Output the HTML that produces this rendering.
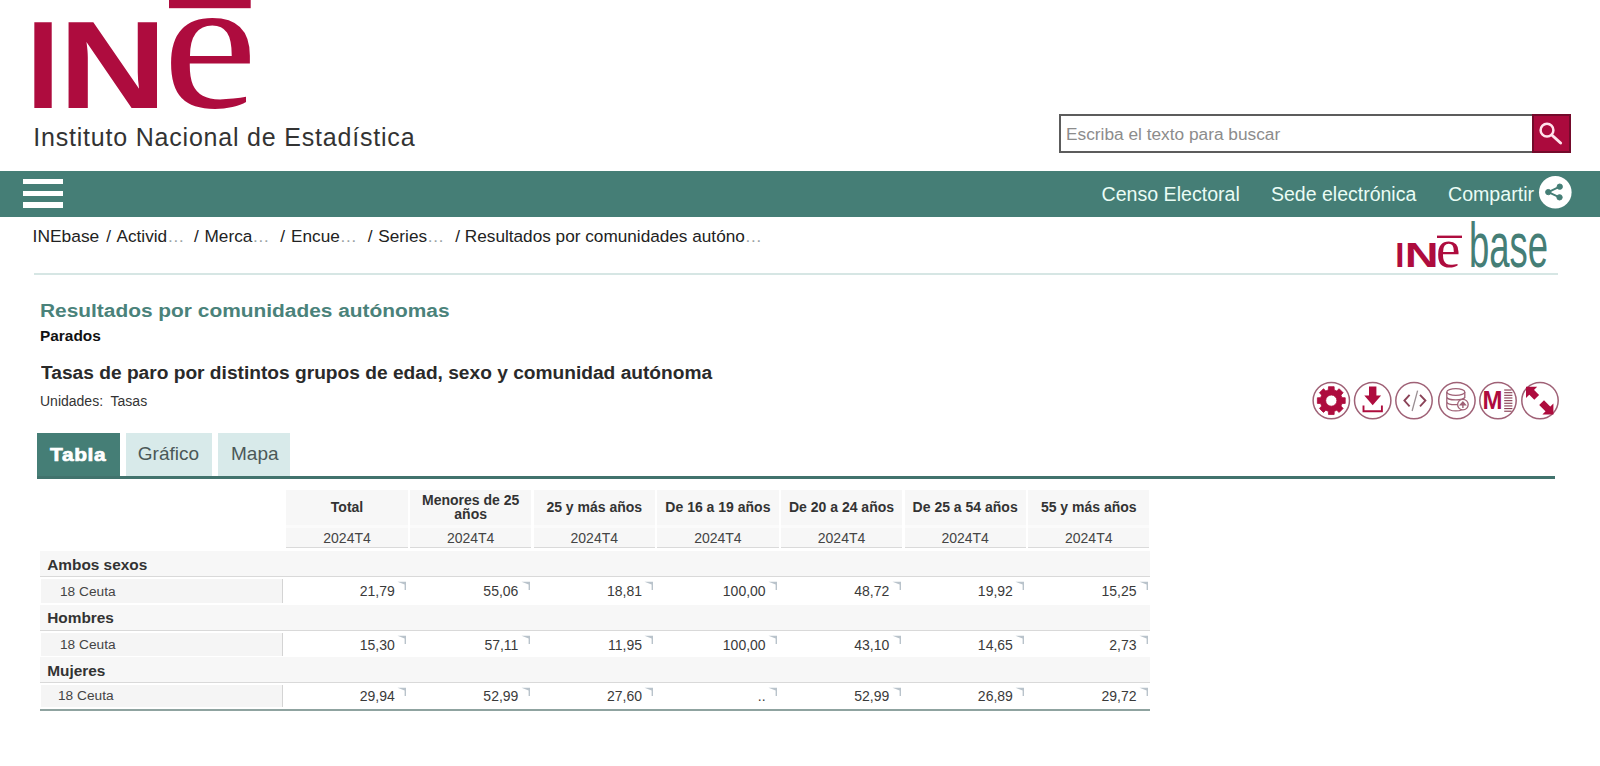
<!DOCTYPE html>
<html lang="es">
<head>
<meta charset="utf-8">
<title>Resultados por comunidades autónomas</title>
<style>
*{box-sizing:border-box;margin:0;padding:0}
html,body{width:1600px;height:766px;overflow:hidden;background:#fff}
body{font-family:"Liberation Sans",sans-serif;color:#222;position:relative}
.a{position:absolute;white-space:pre}
.e{color:#9aa3a3}
svg{position:absolute;overflow:visible}
</style>
</head>
<body>
<svg style="left:0;top:0" width="300" height="115" viewBox="0 0 300 115">
<rect x="169" y="0" width="81.7" height="8.2" fill="#ae0c3e"/>
<g fill="#ae0c3e" font-family="Liberation Sans, sans-serif" font-weight="bold">
<text transform="translate(26.3 107.6) scale(0.97 1)" font-size="124.5" x="0" y="0">I</text>
<text transform="translate(58.55 107.6) scale(1.208 1)" font-size="124.5" x="0" y="0">N</text>
</g>
<text transform="translate(162.66 107.4) scale(1.124 1)" font-family="Liberation Serif, serif" font-size="189.4" fill="#ae0c3e">e</text>
</svg>
<div class="a" style="left:33.2px;top:121.64px;font-size:25px;line-height:31px;color:#333;letter-spacing:0.8px;">Instituto Nacional de Estadística</div>
<div class="a" style="left:1058.5px;top:113.7px;width:512.3px;height:39px;background:#fff;border:2px solid #5c5c5c;"></div>
<div class="a" style="left:1066px;top:122.71px;font-size:17.3px;line-height:22px;color:#8c8c8c;">Escriba el texto para buscar</div>
<div class="a" style="left:1532.2px;top:113.7px;width:38.6px;height:39px;background:#ab0a3d;border:2px solid #740a2b;"></div>
<svg style="left:1532px;top:114px" width="39" height="39" viewBox="0 0 39 39"><circle cx="15" cy="16.2" r="6.4" fill="none" stroke="#ffe3ec" stroke-width="2.5"/><path d="M19.8 21 L28.6 29" stroke="#ffe3ec" stroke-width="3" stroke-linecap="round"/></svg>
<div class="a" style="left:0px;top:171px;width:1600px;height:45.5px;background:#457e76;"></div>
<div class="a" style="left:23px;top:179px;width:40px;height:5.4px;background:#fff;"></div>
<div class="a" style="left:23px;top:190.5px;width:40px;height:5.4px;background:#fff;"></div>
<div class="a" style="left:23px;top:202.3px;width:40px;height:5.4px;background:#fff;"></div>
<div class="a" style="left:1101.5px;top:181.51px;font-size:19.6px;line-height:24px;color:#eafcf5;">Censo Electoral</div>
<div class="a" style="left:1271px;top:181.54px;font-size:19.5px;line-height:24px;color:#eafcf5;">Sede electrónica</div>
<div class="a" style="left:1448px;top:181.51px;font-size:19.6px;line-height:24px;color:#eafcf5;">Compartir</div>
<svg style="left:1539.3px;top:176.3px" width="32.6" height="32.6" viewBox="0 0 33 33"><circle cx="16.5" cy="16.5" r="16.5" fill="#fff"/><g fill="#457e76" stroke="#457e76"><circle cx="9.4" cy="16.3" r="2.7"/><circle cx="21" cy="10.8" r="2.7"/><circle cx="20.8" cy="21.6" r="2.7"/><path d="M9.4 16.3 L21 10.8 M9.4 16.3 L20.8 21.6" stroke-width="1.9" fill="none"/></g></svg>
<div class="a" style="left:32.6px;top:225.27px;font-size:17.4px;line-height:22px;color:#222;">INEbase</div>
<div class="a" style="left:106.3px;top:225.34px;font-size:17.2px;line-height:22px;color:#222;word-spacing:1.6px;">/ Activid<span class="e">…</span></div>
<div class="a" style="left:194px;top:225.34px;font-size:17.2px;line-height:22px;color:#222;word-spacing:1px;">/ Merca<span class="e">…</span></div>
<div class="a" style="left:280.3px;top:225.34px;font-size:17.2px;line-height:22px;color:#222;word-spacing:1.2px;">/ Encue<span class="e">…</span></div>
<div class="a" style="left:367.8px;top:225.34px;font-size:17.2px;line-height:22px;color:#222;word-spacing:1px;">/ Series<span class="e">…</span></div>
<div class="a" style="left:455.3px;top:225.34px;font-size:17.2px;line-height:22px;color:#222;">/ Resultados por comunidades autóno<span class="e">…</span></div>
<div class="a" style="left:34px;top:273px;width:1524px;height:2px;background:#d6e6e4;"></div>
<svg style="left:1390px;top:215px" width="170" height="60" viewBox="1390 215 170 60">
<rect x="1437" y="235.6" width="25" height="2.4" fill="#ae0c3e"/>
<g fill="#ae0c3e" font-family="Liberation Sans, sans-serif" font-weight="bold">
<text transform="translate(1395.15 266.7) scale(0.94 1)" font-size="35">I</text>
<text transform="translate(1404.7 266.7) scale(1.34 1)" font-size="35">N</text>
</g>
<text x="1436" y="266.7" font-family="Liberation Serif, serif" font-size="55" fill="#ae0c3e">e</text>
<text transform="translate(1468.9 266.7) scale(0.5865 1)" font-family="Liberation Sans, sans-serif" font-size="62.2" fill="#457e76">base</text>
</svg>
<div class="a" style="left:39.6px;top:300.36px;font-size:18px;line-height:22px;color:#4a827a;font-weight:bold;transform:scaleX(1.16);transform-origin:0 0;">Resultados por comunidades autónomas</div>
<div class="a" style="left:39.6px;top:327.15px;font-size:14px;line-height:18px;color:#111;font-weight:bold;transform:scaleX(1.1);transform-origin:0 0;">Parados</div>
<div class="a" style="left:41px;top:362.36px;font-size:18px;line-height:22px;color:#2a2a2a;font-weight:bold;transform:scaleX(1.064);transform-origin:0 0;">Tasas de paro por distintos grupos de edad, sexo y comunidad autónoma</div>
<div class="a" style="left:40px;top:391.75px;font-size:14px;line-height:18px;color:#333;">Unidades:  Tasas</div>
<svg style="left:1300px;top:375px" width="270" height="52" viewBox="1300 375 270 52">
<g transform="translate(1331.3 400.6)"><circle r="18.2" fill="#fff" stroke="#9f6176" stroke-width="1.5"/><path d="M10.70 -2.96 L13.92 -2.82 L13.92 2.82 L10.70 2.96 L9.66 5.47 L11.84 7.85 L7.85 11.84 L5.47 9.66 L2.96 10.70 L2.82 13.92 L-2.82 13.92 L-2.96 10.70 L-5.47 9.66 L-7.85 11.84 L-11.84 7.85 L-9.66 5.47 L-10.70 2.96 L-13.92 2.82 L-13.92 -2.82 L-10.70 -2.96 L-9.66 -5.47 L-11.84 -7.85 L-7.85 -11.84 L-5.47 -9.66 L-2.96 -10.70 L-2.82 -13.92 L2.82 -13.92 L2.96 -10.70 L5.47 -9.66 L7.85 -11.84 L11.84 -7.85 L9.66 -5.47Z M5.6 0 A5.6 5.6 0 1 0 -5.6 0 A5.6 5.6 0 1 0 5.6 0Z" fill="#ae0c3e" fill-rule="evenodd" stroke="#ae0c3e" stroke-width="0.8" stroke-linejoin="round"/></g>
<g transform="translate(1372.7 400.6)"><circle r="18.2" fill="#fff" stroke="#9f6176" stroke-width="1.5"/><path d="M-3.7 -14 H3.7 V-5 H8.4 L0 4.6 L-8.4 -5 H-3.7Z" fill="#ae0c3e"/><path d="M-9.2 4.8 V10.6 H9.2 V4.8" fill="none" stroke="#ae0c3e" stroke-width="1.9"/></g>
<g transform="translate(1414 400.6)"><circle r="18.2" fill="#fff" stroke="#9f6176" stroke-width="1.5"/><path d="M-4.4 -5.8 L-9.6 0 L-4.4 5.8 M6 -5.8 L11.4 0 L6 5.8" fill="none" stroke="#8a4358" stroke-width="1.9"/><path d="M3.6 -10 L-1.9 10.4" fill="none" stroke="#9a8f93" stroke-width="1.3"/></g>
<g transform="translate(1456.9 400.6)"><circle r="18.2" fill="#fff" stroke="#9f6176" stroke-width="1.5"/><g transform="translate(2.4 -0.6)"><ellipse cx="-3.5" cy="-8" rx="9" ry="3.4" fill="none" stroke="#9f6176" stroke-width="1.3"/><path d="M-12.5 -8 V6 C-12.5 12.6 5.5 12.6 5.5 6 M-12.5 -3.3 C-12.5 1 5.5 1 5.5 -3.3 M-12.5 1.4 C-12.5 5.8 5.5 5.8 5.5 1.4 M5.5 -8 V-2" fill="none" stroke="#9f6176" stroke-width="1.3"/></g><circle cx="6" cy="4" r="5.3" fill="#fff" stroke="#9f6176" stroke-width="1.3"/><path d="M6 7.4 V2.6 M3.6 4.2 L6 1.4 L8.4 4.2Z" fill="#9f6176" stroke="#9f6176" stroke-width="1.4"/></g>
<g transform="translate(1498 400.6)"><circle r="18.2" fill="#fff" stroke="#9f6176" stroke-width="1.5"/><text x="0" y="0" font-family="Liberation Sans, sans-serif" font-weight="bold" font-size="26.4" fill="#ae0c3e" transform="translate(-15.4 8.8) scale(0.91 1)">M</text><rect x="6.2" y="-11.15" width="7.35" height="1.15" fill="#8a4358"/><rect x="6.2" y="-8.50" width="8.20" height="1.15" fill="#8a4358"/><rect x="6.2" y="-5.85" width="8.20" height="1.15" fill="#8a4358"/><rect x="6.2" y="-3.20" width="8.20" height="1.15" fill="#8a4358"/><rect x="6.2" y="-0.55" width="8.20" height="1.15" fill="#8a4358"/><rect x="6.2" y="2.10" width="8.20" height="1.15" fill="#8a4358"/><rect x="6.2" y="4.75" width="8.20" height="1.15" fill="#8a4358"/><rect x="6.2" y="7.40" width="8.20" height="1.15" fill="#8a4358"/><rect x="6.2" y="10.05" width="7.35" height="1.15" fill="#8a4358"/></g>
<g transform="translate(1540 400.6)"><circle r="18.2" fill="#fff" stroke="#9f6176" stroke-width="1.5"/><path d="M-14 -13.8 L-2.8 -13.8 L-14 -2.6Z M13.4 13.8 L2.4 13.8 L13.4 2.8Z" fill="#ae0c3e"/><path d="M-9.5 -9.5 L-3.3 -3.3 M8.8 9.2 L1.6 2" stroke="#ae0c3e" stroke-width="6.8"/></g>
</svg>
<div class="a" style="left:36.5px;top:433px;width:83.2px;height:46.3px;background:#457e76;"></div>
<div class="a" style="left:126px;top:433px;width:85.6px;height:43px;background:#d8eaea;"></div>
<div class="a" style="left:218px;top:433px;width:72.2px;height:43px;background:#d8eaea;"></div>
<div class="a" style="left:36.5px;top:476.2px;width:1518.5px;height:3.2px;background:#41736d;"></div>
<div class="a" style="left:50.2px;top:443.02px;font-size:19px;line-height:24px;color:#fff;font-weight:bold;letter-spacing:0.6px;-webkit-text-stroke:0.7px #fff;transform:scaleX(1.1);transform-origin:0 0;">Tabla</div>
<div class="a" style="left:137.8px;top:442.22px;font-size:19px;line-height:24px;color:#4b5858;">Gráfico</div>
<div class="a" style="left:231px;top:442.22px;font-size:19px;line-height:24px;color:#4b5858;">Mapa</div>
<div class="a" style="left:286.4px;top:490px;width:121.3px;height:58.2px;background:#fbfbfb;border-bottom:1.3px solid #dadada;"></div>
<div class="a" style="left:286.4px;top:490px;width:121.3px;height:35.4px;background:#f7f7f7;"></div>
<div class="a" style="left:286.4px;top:527.8px;width:121.3px;height:19.2px;background:#f7f7f7;"></div>
<div class="a" style="left:286.4px;top:498.45px;font-size:14px;line-height:18px;color:#333;font-weight:bold;width:121.3px;text-align:center;">Total</div>
<div class="a" style="left:286.4px;top:528.95px;font-size:14px;line-height:18px;color:#444;width:121.3px;text-align:center;">2024T4</div>
<div class="a" style="left:410.02px;top:490px;width:121.3px;height:58.2px;background:#fbfbfb;border-bottom:1.3px solid #dadada;"></div>
<div class="a" style="left:410.02px;top:490px;width:121.3px;height:35.4px;background:#f7f7f7;"></div>
<div class="a" style="left:410.02px;top:527.8px;width:121.3px;height:19.2px;background:#f7f7f7;"></div>
<div class="a" style="left:410.02px;top:491.15px;font-size:14px;line-height:18px;color:#333;font-weight:bold;width:121.3px;text-align:center;">Menores de 25</div>
<div class="a" style="left:410.02px;top:504.95px;font-size:14px;line-height:18px;color:#333;font-weight:bold;width:121.3px;text-align:center;">años</div>
<div class="a" style="left:410.02px;top:528.95px;font-size:14px;line-height:18px;color:#444;width:121.3px;text-align:center;">2024T4</div>
<div class="a" style="left:533.64px;top:490px;width:121.3px;height:58.2px;background:#fbfbfb;border-bottom:1.3px solid #dadada;"></div>
<div class="a" style="left:533.64px;top:490px;width:121.3px;height:35.4px;background:#f7f7f7;"></div>
<div class="a" style="left:533.64px;top:527.8px;width:121.3px;height:19.2px;background:#f7f7f7;"></div>
<div class="a" style="left:533.64px;top:498.45px;font-size:14px;line-height:18px;color:#333;font-weight:bold;width:121.3px;text-align:center;">25 y más años</div>
<div class="a" style="left:533.64px;top:528.95px;font-size:14px;line-height:18px;color:#444;width:121.3px;text-align:center;">2024T4</div>
<div class="a" style="left:657.26px;top:490px;width:121.3px;height:58.2px;background:#fbfbfb;border-bottom:1.3px solid #dadada;"></div>
<div class="a" style="left:657.26px;top:490px;width:121.3px;height:35.4px;background:#f7f7f7;"></div>
<div class="a" style="left:657.26px;top:527.8px;width:121.3px;height:19.2px;background:#f7f7f7;"></div>
<div class="a" style="left:657.26px;top:498.45px;font-size:14px;line-height:18px;color:#333;font-weight:bold;width:121.3px;text-align:center;">De 16 a 19 años</div>
<div class="a" style="left:657.26px;top:528.95px;font-size:14px;line-height:18px;color:#444;width:121.3px;text-align:center;">2024T4</div>
<div class="a" style="left:780.88px;top:490px;width:121.3px;height:58.2px;background:#fbfbfb;border-bottom:1.3px solid #dadada;"></div>
<div class="a" style="left:780.88px;top:490px;width:121.3px;height:35.4px;background:#f7f7f7;"></div>
<div class="a" style="left:780.88px;top:527.8px;width:121.3px;height:19.2px;background:#f7f7f7;"></div>
<div class="a" style="left:780.88px;top:498.45px;font-size:14px;line-height:18px;color:#333;font-weight:bold;width:121.3px;text-align:center;">De 20 a 24 años</div>
<div class="a" style="left:780.88px;top:528.95px;font-size:14px;line-height:18px;color:#444;width:121.3px;text-align:center;">2024T4</div>
<div class="a" style="left:904.5px;top:490px;width:121.3px;height:58.2px;background:#fbfbfb;border-bottom:1.3px solid #dadada;"></div>
<div class="a" style="left:904.5px;top:490px;width:121.3px;height:35.4px;background:#f7f7f7;"></div>
<div class="a" style="left:904.5px;top:527.8px;width:121.3px;height:19.2px;background:#f7f7f7;"></div>
<div class="a" style="left:904.5px;top:498.45px;font-size:14px;line-height:18px;color:#333;font-weight:bold;width:121.3px;text-align:center;">De 25 a 54 años</div>
<div class="a" style="left:904.5px;top:528.95px;font-size:14px;line-height:18px;color:#444;width:121.3px;text-align:center;">2024T4</div>
<div class="a" style="left:1028.12px;top:490px;width:121.3px;height:58.2px;background:#fbfbfb;border-bottom:1.3px solid #dadada;"></div>
<div class="a" style="left:1028.12px;top:490px;width:121.3px;height:35.4px;background:#f7f7f7;"></div>
<div class="a" style="left:1028.12px;top:527.8px;width:121.3px;height:19.2px;background:#f7f7f7;"></div>
<div class="a" style="left:1028.12px;top:498.45px;font-size:14px;line-height:18px;color:#333;font-weight:bold;width:121.3px;text-align:center;">55 y más años</div>
<div class="a" style="left:1028.12px;top:528.95px;font-size:14px;line-height:18px;color:#444;width:121.3px;text-align:center;">2024T4</div>
<div class="a" style="left:40px;top:551px;width:1109.5px;height:26px;background:#f7f7f7;border-bottom:1px solid #d9d9d9;"></div>
<div class="a" style="left:47.2px;top:555.16px;font-size:15.4px;line-height:19px;color:#333;font-weight:bold;">Ambos sexos</div>
<div class="a" style="left:40px;top:604.5px;width:1109.5px;height:26.5px;background:#f7f7f7;border-bottom:1px solid #d9d9d9;"></div>
<div class="a" style="left:47.2px;top:607.76px;font-size:15.4px;line-height:19px;color:#333;font-weight:bold;">Hombres</div>
<div class="a" style="left:40px;top:657px;width:1109.5px;height:26px;background:#f7f7f7;border-bottom:1px solid #d9d9d9;"></div>
<div class="a" style="left:47.2px;top:660.76px;font-size:15.4px;line-height:19px;color:#333;font-weight:bold;">Mujeres</div>
<div class="a" style="left:41px;top:579px;width:242px;height:24.0px;background:#f5f5f5;border-right:1px solid #d4d4d4;"></div>
<div class="a" style="left:60px;top:582.65px;font-size:13.7px;line-height:17px;color:#444;">18 Ceuta</div>
<div class="a" style="left:286.4px;top:582.45px;font-size:14px;line-height:18px;color:#3a3a3a;width:108.39999999999999px;text-align:right;">21,79</div>
<svg style="left:397.1px;top:581.3px" width="10" height="10" viewBox="0 0 10 10"><path d="M0.5 0.8 H9 V9 L7.6 9 V3.6 Z" fill="#b9c3cb"/></svg>
<div class="a" style="left:410.02px;top:582.45px;font-size:14px;line-height:18px;color:#3a3a3a;width:108.39999999999999px;text-align:right;">55,06</div>
<svg style="left:520.7px;top:581.3px" width="10" height="10" viewBox="0 0 10 10"><path d="M0.5 0.8 H9 V9 L7.6 9 V3.6 Z" fill="#b9c3cb"/></svg>
<div class="a" style="left:533.64px;top:582.45px;font-size:14px;line-height:18px;color:#3a3a3a;width:108.39999999999999px;text-align:right;">18,81</div>
<svg style="left:644.3px;top:581.3px" width="10" height="10" viewBox="0 0 10 10"><path d="M0.5 0.8 H9 V9 L7.6 9 V3.6 Z" fill="#b9c3cb"/></svg>
<div class="a" style="left:657.26px;top:582.45px;font-size:14px;line-height:18px;color:#3a3a3a;width:108.39999999999999px;text-align:right;">100,00</div>
<svg style="left:768.0px;top:581.3px" width="10" height="10" viewBox="0 0 10 10"><path d="M0.5 0.8 H9 V9 L7.6 9 V3.6 Z" fill="#b9c3cb"/></svg>
<div class="a" style="left:780.88px;top:582.45px;font-size:14px;line-height:18px;color:#3a3a3a;width:108.39999999999999px;text-align:right;">48,72</div>
<svg style="left:891.6px;top:581.3px" width="10" height="10" viewBox="0 0 10 10"><path d="M0.5 0.8 H9 V9 L7.6 9 V3.6 Z" fill="#b9c3cb"/></svg>
<div class="a" style="left:904.5px;top:582.45px;font-size:14px;line-height:18px;color:#3a3a3a;width:108.39999999999999px;text-align:right;">19,92</div>
<svg style="left:1015.2px;top:581.3px" width="10" height="10" viewBox="0 0 10 10"><path d="M0.5 0.8 H9 V9 L7.6 9 V3.6 Z" fill="#b9c3cb"/></svg>
<div class="a" style="left:1028.12px;top:582.45px;font-size:14px;line-height:18px;color:#3a3a3a;width:108.39999999999999px;text-align:right;">15,25</div>
<svg style="left:1138.8px;top:581.3px" width="10" height="10" viewBox="0 0 10 10"><path d="M0.5 0.8 H9 V9 L7.6 9 V3.6 Z" fill="#b9c3cb"/></svg>
<div class="a" style="left:41px;top:633px;width:242px;height:22.5px;background:#f5f5f5;border-right:1px solid #d4d4d4;"></div>
<div class="a" style="left:60px;top:636.35px;font-size:13.7px;line-height:17px;color:#444;">18 Ceuta</div>
<div class="a" style="left:286.4px;top:636.15px;font-size:14px;line-height:18px;color:#3a3a3a;width:108.39999999999999px;text-align:right;">15,30</div>
<svg style="left:397.1px;top:635.3px" width="10" height="10" viewBox="0 0 10 10"><path d="M0.5 0.8 H9 V9 L7.6 9 V3.6 Z" fill="#b9c3cb"/></svg>
<div class="a" style="left:410.02px;top:636.15px;font-size:14px;line-height:18px;color:#3a3a3a;width:108.39999999999999px;text-align:right;">57,11</div>
<svg style="left:520.7px;top:635.3px" width="10" height="10" viewBox="0 0 10 10"><path d="M0.5 0.8 H9 V9 L7.6 9 V3.6 Z" fill="#b9c3cb"/></svg>
<div class="a" style="left:533.64px;top:636.15px;font-size:14px;line-height:18px;color:#3a3a3a;width:108.39999999999999px;text-align:right;">11,95</div>
<svg style="left:644.3px;top:635.3px" width="10" height="10" viewBox="0 0 10 10"><path d="M0.5 0.8 H9 V9 L7.6 9 V3.6 Z" fill="#b9c3cb"/></svg>
<div class="a" style="left:657.26px;top:636.15px;font-size:14px;line-height:18px;color:#3a3a3a;width:108.39999999999999px;text-align:right;">100,00</div>
<svg style="left:768.0px;top:635.3px" width="10" height="10" viewBox="0 0 10 10"><path d="M0.5 0.8 H9 V9 L7.6 9 V3.6 Z" fill="#b9c3cb"/></svg>
<div class="a" style="left:780.88px;top:636.15px;font-size:14px;line-height:18px;color:#3a3a3a;width:108.39999999999999px;text-align:right;">43,10</div>
<svg style="left:891.6px;top:635.3px" width="10" height="10" viewBox="0 0 10 10"><path d="M0.5 0.8 H9 V9 L7.6 9 V3.6 Z" fill="#b9c3cb"/></svg>
<div class="a" style="left:904.5px;top:636.15px;font-size:14px;line-height:18px;color:#3a3a3a;width:108.39999999999999px;text-align:right;">14,65</div>
<svg style="left:1015.2px;top:635.3px" width="10" height="10" viewBox="0 0 10 10"><path d="M0.5 0.8 H9 V9 L7.6 9 V3.6 Z" fill="#b9c3cb"/></svg>
<div class="a" style="left:1028.12px;top:636.15px;font-size:14px;line-height:18px;color:#3a3a3a;width:108.39999999999999px;text-align:right;">2,73</div>
<svg style="left:1138.8px;top:635.3px" width="10" height="10" viewBox="0 0 10 10"><path d="M0.5 0.8 H9 V9 L7.6 9 V3.6 Z" fill="#b9c3cb"/></svg>
<div class="a" style="left:41px;top:685px;width:242px;height:22.0px;background:#f5f5f5;border-right:1px solid #d4d4d4;"></div>
<div class="a" style="left:58px;top:687.35px;font-size:13.7px;line-height:17px;color:#444;">18 Ceuta</div>
<div class="a" style="left:286.4px;top:687.15px;font-size:14px;line-height:18px;color:#3a3a3a;width:108.39999999999999px;text-align:right;">29,94</div>
<svg style="left:397.1px;top:687.3px" width="10" height="10" viewBox="0 0 10 10"><path d="M0.5 0.8 H9 V9 L7.6 9 V3.6 Z" fill="#b9c3cb"/></svg>
<div class="a" style="left:410.02px;top:687.15px;font-size:14px;line-height:18px;color:#3a3a3a;width:108.39999999999999px;text-align:right;">52,99</div>
<svg style="left:520.7px;top:687.3px" width="10" height="10" viewBox="0 0 10 10"><path d="M0.5 0.8 H9 V9 L7.6 9 V3.6 Z" fill="#b9c3cb"/></svg>
<div class="a" style="left:533.64px;top:687.15px;font-size:14px;line-height:18px;color:#3a3a3a;width:108.39999999999999px;text-align:right;">27,60</div>
<svg style="left:644.3px;top:687.3px" width="10" height="10" viewBox="0 0 10 10"><path d="M0.5 0.8 H9 V9 L7.6 9 V3.6 Z" fill="#b9c3cb"/></svg>
<div class="a" style="left:657.26px;top:687.15px;font-size:14px;line-height:18px;color:#3a3a3a;width:108.39999999999999px;text-align:right;">..</div>
<svg style="left:768.0px;top:687.3px" width="10" height="10" viewBox="0 0 10 10"><path d="M0.5 0.8 H9 V9 L7.6 9 V3.6 Z" fill="#b9c3cb"/></svg>
<div class="a" style="left:780.88px;top:687.15px;font-size:14px;line-height:18px;color:#3a3a3a;width:108.39999999999999px;text-align:right;">52,99</div>
<svg style="left:891.6px;top:687.3px" width="10" height="10" viewBox="0 0 10 10"><path d="M0.5 0.8 H9 V9 L7.6 9 V3.6 Z" fill="#b9c3cb"/></svg>
<div class="a" style="left:904.5px;top:687.15px;font-size:14px;line-height:18px;color:#3a3a3a;width:108.39999999999999px;text-align:right;">26,89</div>
<svg style="left:1015.2px;top:687.3px" width="10" height="10" viewBox="0 0 10 10"><path d="M0.5 0.8 H9 V9 L7.6 9 V3.6 Z" fill="#b9c3cb"/></svg>
<div class="a" style="left:1028.12px;top:687.15px;font-size:14px;line-height:18px;color:#3a3a3a;width:108.39999999999999px;text-align:right;">29,72</div>
<svg style="left:1138.8px;top:687.3px" width="10" height="10" viewBox="0 0 10 10"><path d="M0.5 0.8 H9 V9 L7.6 9 V3.6 Z" fill="#b9c3cb"/></svg>
<div class="a" style="left:40px;top:708.6px;width:1110px;height:2px;background:#8fa3a0;"></div>
</body>
</html>
